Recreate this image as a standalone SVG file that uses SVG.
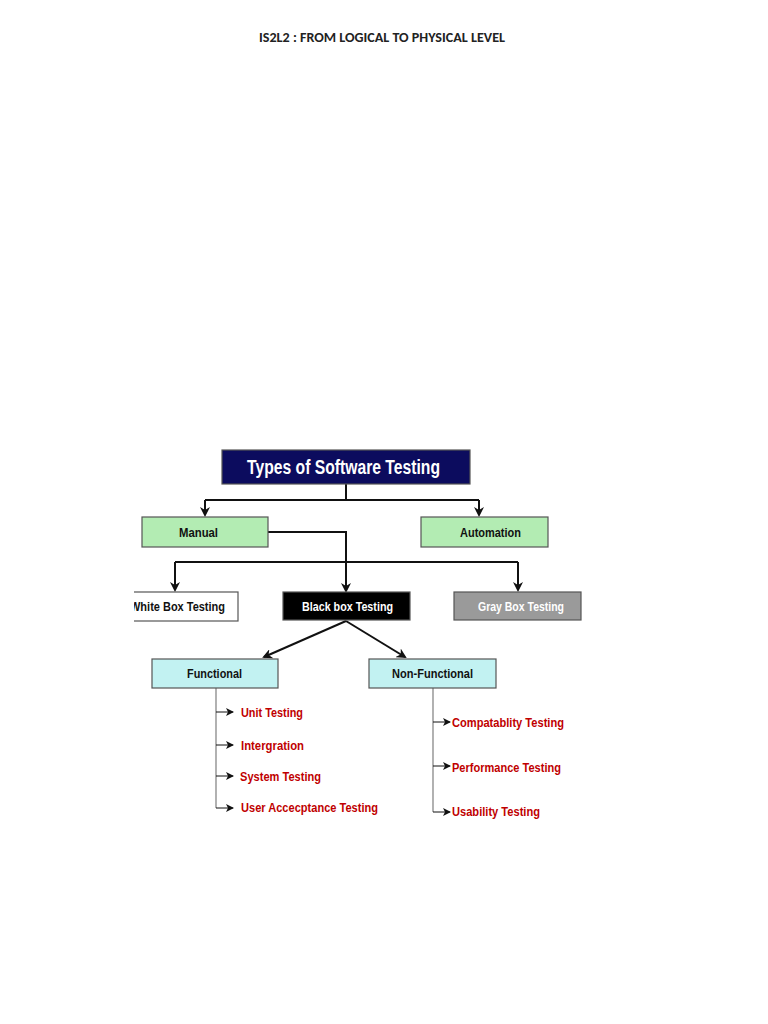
<svg xmlns="http://www.w3.org/2000/svg" width="768" height="1024" viewBox="0 0 768 1024">
<style>
.t{font-family:"Liberation Sans",Arial,sans-serif;font-weight:bold}
.r{font-family:"Liberation Sans",Arial,sans-serif;font-weight:bold;fill:#c00000;font-size:13.5px}
.box{stroke:#555;stroke-width:1.2}
.c{fill:none;stroke:#111;stroke-width:2}
.g{fill:none;stroke:#888;stroke-width:1.3}
.a{fill:none;stroke:#111;stroke-width:1}
</style>
<defs>
<marker id="ah" markerWidth="10" markerHeight="10" refX="8" refY="5" orient="auto" markerUnits="userSpaceOnUse"><path d="M0,0 L10,5 L0,10 L3,5 z" fill="#111"/></marker>
<marker id="sm" markerWidth="8" markerHeight="8" refX="7" refY="4" orient="auto" markerUnits="userSpaceOnUse"><path d="M0,0 L8,4 L0,8 L2,4 z" fill="#111"/></marker>
<clipPath id="clipL"><rect x="134" y="0" width="700" height="1024"/></clipPath>
</defs>
<rect width="768" height="1024" fill="#fff"/>
<text x="259" y="42" font-family="Carlito,'Liberation Sans',sans-serif" font-weight="bold" font-size="13.5" textLength="246" lengthAdjust="spacingAndGlyphs" fill="#222">IS2L2 : FROM LOGICAL TO PHYSICAL LEVEL</text>

<g id="connectors">
<path class="c" d="M346,484 V500 M205,500 H479" />
<path class="c" d="M205,500 V515" marker-end="url(#ah)"/>
<path class="c" d="M479,500 V515" marker-end="url(#ah)"/>
<path class="c" d="M268,532 H346 V591" marker-end="url(#ah)"/>
<path class="c" d="M175,562 H518"/>
<path class="c" d="M175,562 V590" marker-end="url(#ah)"/>
<path class="c" d="M518,562 V590" marker-end="url(#ah)"/>
<path class="c" d="M346,621 L264,657" marker-end="url(#ah)"/>
<path class="c" d="M346,621 L405,657" marker-end="url(#ah)"/>
<path class="g" d="M216,688 V808"/>
<path class="a" d="M216,712 H233" marker-end="url(#sm)"/>
<path class="a" d="M216,745 H233" marker-end="url(#sm)"/>
<path class="a" d="M216,776 H233" marker-end="url(#sm)"/>
<path class="a" d="M216,808 H233" marker-end="url(#sm)"/>
<path class="g" d="M433,688 V812"/>
<path class="a" d="M433,722 H450" marker-end="url(#sm)"/>
<path class="a" d="M433,766 H450" marker-end="url(#sm)"/>
<path class="a" d="M433,812 H450" marker-end="url(#sm)"/>
</g>

<g id="types">
<rect class="box" x="222" y="450" width="248" height="34" fill="#0c0c5e"/>
<text class="t" x="247" y="474" font-size="20" textLength="193" lengthAdjust="spacingAndGlyphs" fill="#fff">Types of Software Testing</text>
</g>
<g id="manual">
<rect class="box" x="142" y="517" width="126" height="30" fill="#b3ecb3"/>
<text class="t" x="179" y="537" font-size="13.5" textLength="39" lengthAdjust="spacingAndGlyphs" fill="#111">Manual</text>
</g>
<g id="automation">
<rect class="box" x="421" y="517" width="127" height="30" fill="#b3ecb3"/>
<text class="t" x="460" y="537" font-size="13.5" textLength="61" lengthAdjust="spacingAndGlyphs" fill="#111">Automation</text>
</g>
<g id="whitebox" clip-path="url(#clipL)">
<rect class="box" x="128" y="592" width="110" height="29" fill="#fff"/>
<text class="t" x="130" y="611" font-size="13.5" textLength="95" lengthAdjust="spacingAndGlyphs" fill="#111">White Box Testing</text>
</g>
<g id="blackbox">
<rect class="box" x="283" y="592" width="127" height="28" fill="#000"/>
<text class="t" x="302" y="611" font-size="13.5" textLength="91" lengthAdjust="spacingAndGlyphs" fill="#fff">Black box Testing</text>
</g>
<g id="graybox">
<rect class="box" x="454" y="592" width="127" height="28" fill="#9a9a9a"/>
<text class="t" x="478" y="611" font-size="13.5" textLength="86" lengthAdjust="spacingAndGlyphs" fill="#fff">Gray Box Testing</text>
</g>
<g id="functional">
<rect class="box" x="152" y="659" width="126" height="29" fill="#c2f2f2"/>
<text class="t" x="187" y="678" font-size="13.5" textLength="55" lengthAdjust="spacingAndGlyphs" fill="#111">Functional</text>
</g>
<g id="nonfunctional">
<rect class="box" x="369" y="659" width="127" height="29" fill="#c2f2f2"/>
<text class="t" x="392" y="678" font-size="13.5" textLength="81" lengthAdjust="spacingAndGlyphs" fill="#111">Non-Functional</text>
</g>
<g id="functional-items">
<text class="r" x="241" y="717" textLength="62" lengthAdjust="spacingAndGlyphs">Unit Testing</text>
<text class="r" x="241" y="750" textLength="63" lengthAdjust="spacingAndGlyphs">Intergration</text>
<text class="r" x="240" y="781" textLength="81" lengthAdjust="spacingAndGlyphs">System Testing</text>
<text class="r" x="241" y="812" textLength="137" lengthAdjust="spacingAndGlyphs">User Accecptance Testing</text>
</g>
<g id="nonfunctional-items">
<text class="r" x="452" y="727" textLength="112" lengthAdjust="spacingAndGlyphs">Compatablity Testing</text>
<text class="r" x="452" y="772" textLength="109" lengthAdjust="spacingAndGlyphs">Performance Testing</text>
<text class="r" x="452" y="816" textLength="88" lengthAdjust="spacingAndGlyphs">Usability Testing</text>
</g>
</svg>
